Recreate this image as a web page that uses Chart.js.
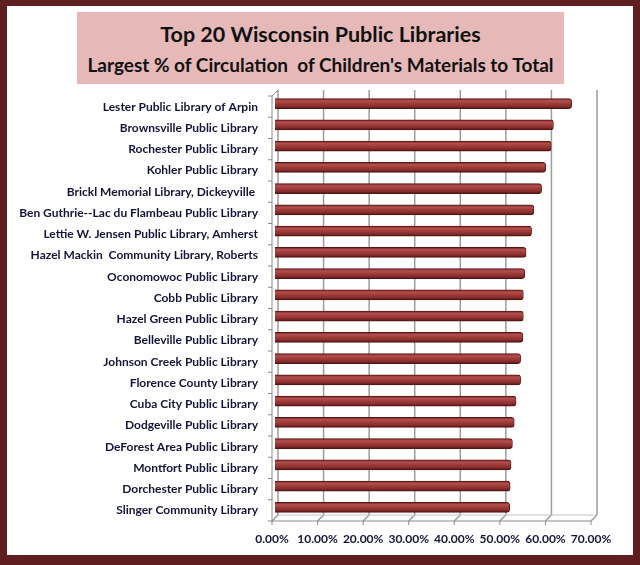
<!DOCTYPE html>
<html>
<head>
<meta charset="utf-8">
<script src="https://cdn.jsdelivr.net/npm/chart.js@4/dist/chart.umd.min.js"></script>
<style>
  html, body { margin: 0; padding: 0; background: #fff; }
  #page { position: relative; width: 640px; height: 565px; background: #fff; overflow: hidden; }
  #zone { position: absolute; left: 0; top: 0; width: 640px; height: 565px; }
  #cadre {
    position: absolute; left: 0; top: 0; width: 640px; height: 565px;
    box-sizing: border-box; border-style: solid; border-color: #5f1f20;
    border-width: 6px 7px 10px 7px; pointer-events: none;
  }
  #titre {
    position: absolute; left: 77px; top: 12px; width: 487px; height: 72px;
    background: #e6b9b8; text-align: center; color: #111;
    font-family: Lato, "Open Sans", sans-serif;
  }
  #titre .l1 { font-size: 21.5px; font-weight: bold; margin-top: 9px; line-height: 26px; }
  #titre .l2 { font-size: 19px; font-weight: bold; margin-top: 6px; line-height: 24px; }
</style>
</head>
<body>
<div id="page">
  <div id="zone"><canvas id="biblioChart"></canvas></div>
  <div id="titre">
    <div class="l1">Top 20 Wisconsin Public Libraries</div>
    <div class="l2">Largest % of Circulation&nbsp; of Children's Materials to Total</div>
  </div>
  <div id="cadre"></div>
</div>
<script>
// Données
const bibliotheques = [
    'Lester Public Library of Arpin',
    'Brownsville Public Library',
    'Rochester Public Library',
    'Kohler Public Library',
    'Brickl Memorial Library, Dickeyville ',
    'Ben Guthrie--Lac du Flambeau Public Library',
    'Lettie W. Jensen Public Library, Amherst',
    'Hazel Mackin  Community Library, Roberts',
    'Oconomowoc Public Library',
    'Cobb Public Library',
    'Hazel Green Public Library',
    'Belleville Public Library',
    'Johnson Creek Public Library',
    'Florence County Library',
    'Cuba City Public Library',
    'Dodgeville Public Library',
    'DeForest Area Public Library',
    'Montfort Public Library',
    'Dorchester Public Library',
    'Slinger Community Library'
];
const pourcentages = [65.1, 61.1, 60.6, 59.4, 58.5, 56.8, 56.3, 55.1, 54.8, 54.5,
                      54.5, 54.4, 53.9, 53.9, 52.9, 52.5, 52.1, 51.8, 51.6, 51.5];
const graduations = [0, 10, 20, 30, 40, 50, 60, 70];

const PROF = 6; // profondeur de l'effet 3D

// Dégradé "cylindre" pour chaque barre
function degradeBarre(context) {
    const chart = context.chart;
    if (!chart.chartArea || !chart.scales.y) return '#a0403e';
    const y = chart.scales.y.getPixelForValue(context.dataIndex);
    const g = chart.ctx.createLinearGradient(0, y - 5, 0, y + 5);
    g.addColorStop(0, '#6a1c1b');
    g.addColorStop(0.22, '#b4504e');
    g.addColorStop(0.5, '#9e3c3a');
    g.addColorStop(0.8, '#842b29');
    g.addColorStop(1, '#451110');
    return g;
}

// Cadre 3D : murs, quadrillage et axes
const cadre3d = {
    id: 'cadre3d',
    beforeDatasetsDraw(chart) {
        const { ctx, chartArea: a, scales } = chart;
        const d = PROF;
        ctx.save();
        // quadrillage du fond
        ctx.strokeStyle = '#9c9c9c';
        ctx.lineWidth = 1.5;
        graduations.forEach(v => {
            const x = scales.x.getPixelForValue(v);
            ctx.beginPath();
            ctx.moveTo(x + d, a.top - d);
            ctx.lineTo(x + d, a.bottom - d);
            ctx.lineTo(x, a.bottom);
            ctx.stroke();
        });
        // arête du sol au fond
        ctx.strokeStyle = '#c4c4c4';
        ctx.lineWidth = 1;
        ctx.beginPath();
        ctx.moveTo(a.left + d, a.bottom - d);
        ctx.lineTo(a.right + d, a.bottom - d);
        ctx.stroke();
        // axes avant
        ctx.strokeStyle = '#8a8a8a';
        ctx.beginPath();
        ctx.moveTo(a.left + d, a.top - d);
        ctx.lineTo(a.left, a.top);
        ctx.lineTo(a.left, a.bottom);
        ctx.lineTo(a.right, a.bottom);
        ctx.stroke();
        // graduations
        ctx.beginPath();
        graduations.forEach(v => {
            const x = scales.x.getPixelForValue(v);
            ctx.moveTo(x, a.bottom);
            ctx.lineTo(x, a.bottom + 4);
        });
        const pas = (a.bottom - a.top) / bibliotheques.length;
        for (let i = 0; i <= bibliotheques.length; i++) {
            const y = a.top + i * pas;
            ctx.moveTo(a.left - 4, y);
            ctx.lineTo(a.left, y);
        }
        ctx.stroke();
        ctx.restore();
        // barres placées au milieu de la profondeur
        ctx.save();
        ctx.translate(d / 2, -d / 2);
    },
    afterDatasetsDraw(chart) {
        chart.ctx.restore();
    }
};

const ctx = document.getElementById('biblioChart').getContext('2d');
new Chart(ctx, {
    type: 'bar',
    data: {
        labels: bibliotheques,
        datasets: [{
            data: pourcentages,
            backgroundColor: degradeBarre,
            borderColor: '#561514',
            borderWidth: 0.8,
            borderSkipped: 'start',
            borderRadius: { topRight: 3, bottomRight: 3, topLeft: 0, bottomLeft: 0 },
            barThickness: 10
        }]
    },
    options: {
        indexAxis: 'y',
        responsive: true,
        maintainAspectRatio: false,
        animation: false,
        layout: { padding: { top: 96, right: 49, bottom: 14, left: 0 } },
        plugins: {
            legend: { display: false },
            tooltip: { enabled: false }
        },
        scales: {
            x: {
                min: 0,
                max: 70,
                afterBuildTicks: scale => {
                    scale.ticks = graduations.map(v => ({ value: v }));
                },
                afterFit: scale => { scale.height = 30; },
                grid: { display: false, drawTicks: false },
                border: { display: false },
                ticks: {
                    padding: 11,
                    autoSkip: false,
                    maxRotation: 0,
                    minRotation: 0,
                    color: '#14143a',
                    font: { family: 'Lato', size: 12, weight: 'bold' },
                    callback: value => value.toFixed(2) + '%'
                }
            },
            y: {
                afterFit: scale => { scale.width = 272; },
                grid: { display: false, drawTicks: false },
                border: { display: false },
                ticks: {
                    padding: 14,
                    autoSkip: false,
                    color: '#14143a',
                    font: { family: 'Lato', size: 12, weight: 'bold' }
                }
            }
        }
    },
    plugins: [cadre3d]
});
</script>
</body>
</html>
